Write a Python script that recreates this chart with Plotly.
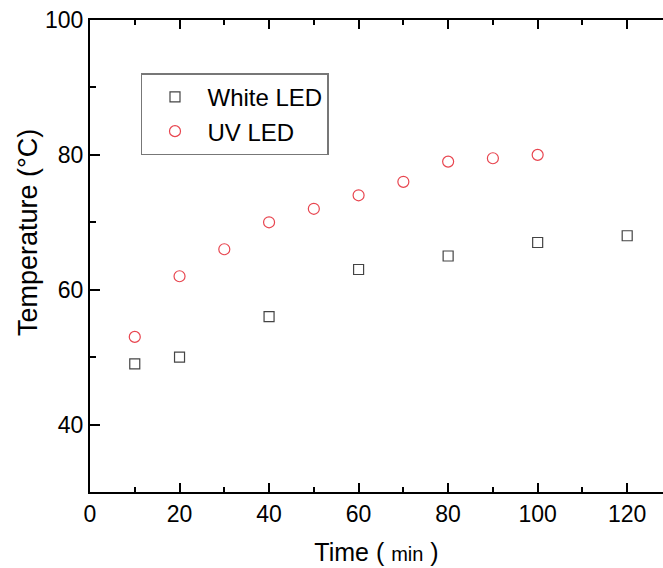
import plotly.graph_objects as go

white_x = [10, 20, 40, 60, 80, 100, 120]
white_y = [49, 50, 56, 63, 65, 67, 68]
uv_x = [10, 20, 30, 40, 50, 60, 70, 80, 90, 100]
uv_y = [53, 62, 66, 70, 72, 74, 76, 79, 79.5, 80]

fig = go.Figure()
fig.add_trace(go.Scatter(x=white_x, y=white_y, mode="markers", name="White LED",
                         marker=dict(symbol="square-open", size=10, color="#444444",
                                     line=dict(width=1.2))))
fig.add_trace(go.Scatter(x=uv_x, y=uv_y, mode="markers", name="UV LED",
                         marker=dict(symbol="circle-open", size=11, color="#e8454f",
                                     line=dict(width=1.2))))

font = "Liberation Sans, Arial, sans-serif"
fig.update_layout(
    width=663, height=568,
    margin=dict(l=90, r=0, t=20, b=76),
    plot_bgcolor="white", paper_bgcolor="white",
    font=dict(family=font, size=23, color="#000000"),
    showlegend=True,
    legend=dict(x=0.089, y=0.887, xanchor="left", yanchor="top",
                bordercolor="#777777", borderwidth=1.5, bgcolor="white",
                font=dict(size=24), itemwidth=55, tracegroupgap=0),
    xaxis=dict(range=[0, 128], tickvals=[0, 20, 40, 60, 80, 100, 120],
               ticks="inside", ticklen=9, tickwidth=2, tickcolor="#000",
               showline=True, linecolor="#000", linewidth=2, mirror="ticks",
               showgrid=False, zeroline=False, automargin=False,
               minor=dict(dtick=10, tick0=0, ticks="inside", ticklen=5, tickwidth=2, tickcolor="#000"),
               title=dict(text="Time ( <span style='font-size:20px'>min</span> )",
                          font=dict(size=25), standoff=18),
               tickfont=dict(size=23)),
    yaxis=dict(range=[30, 100], tickvals=[40, 60, 80, 100],
               ticks="inside", ticklen=10, tickwidth=2, tickcolor="#000",
               showline=True, linecolor="#000", linewidth=2, mirror=False,
               showgrid=False, zeroline=False, automargin=False,
               minor=dict(dtick=10, tick0=0, ticks="inside", ticklen=6, tickwidth=2, tickcolor="#000"),
               tickfont=dict(size=23)),
    annotations=[dict(text="Temperature (°C)", textangle=-90, xref="paper", yref="paper",
                      x=-0.108, y=0.549, xanchor="center", yanchor="middle",
                      showarrow=False, font=dict(size=27))],
)

fig.write_html("out.html", post_script="document.body.style.margin='0';",
               config={"displayModeBar": False})
